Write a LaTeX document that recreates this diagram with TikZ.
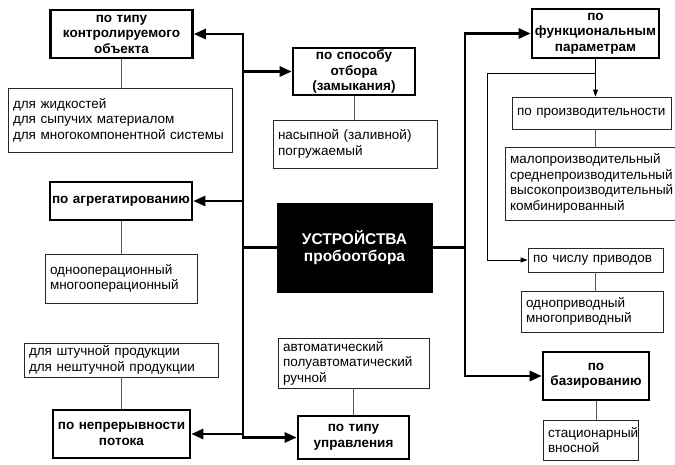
\documentclass[tikz,border=0pt]{standalone}
\usepackage{fontspec}
\setmainfont{Liberation Sans}
\usetikzlibrary{arrows.meta}
\tikzset{
  grp/.style={draw=black,line width=2.6pt,fill=white,align=center,inner xsep=2pt,inner ysep=1pt,
    font=\fontsize{13.5}{15.5}\selectfont\bfseries},
  det/.style={draw=black!85,line width=0.8pt,fill=white,align=left,inner xsep=5pt,inner ysep=1pt,
    font=\fontsize{13.5}{15.5}\selectfont},
  trunk/.style={line width=2.6pt,line cap=rect},
  bigtip/.tip={Triangle[length=12pt,width=10pt]},
  thinline/.style={draw=black!65,line width=0.9pt},
  smalltip/.tip={Triangle[length=7pt,width=5pt]}
}
\begin{document}
\begin{tikzpicture}[x=1pt,y=-1pt]
\useasboundingbox (0,0) rectangle (675,464);
\clip (0,0) rectangle (675,464);
% left side
\node[grp,text width=138pt,minimum height=48pt] (tipobj) at (121.5,34) {по типу\\контролируемого\\объекта};
\node[det,text width=214pt,minimum height=64pt] (zhidk) at (120,120) {для жидкостей\\для сыпучих материалом\\для многокомпонентной системы};
\node[grp,text width=138pt,minimum height=38pt] (agreg) at (121,201) {по агрегатированию};
\node[det,text width=142pt,minimum height=49pt] (operac) at (121,278.5) {однооперационный\\многооперационный};
\node[det,text width=184pt,minimum height=34pt] (shtuch) at (121,360) {для штучной продукции\\для нештучной продукции};
\node[grp,text width=133pt,minimum height=48pt] (nepr) at (121.5,434) {по непрерывности\\потока};
% middle
\node[grp,text width=118pt,minimum height=47pt] (sposob) at (354,71.5) {по способу\\отбора\\(замыкания)};
\node[det,text width=154pt,minimum height=48pt] (nasyp) at (355,144) {насыпной (заливной)\\погружаемый};
\node[draw=black,fill=black,text=white,align=center,minimum width=155pt,minimum height=89pt,
  font=\fontsize{15.5}{17.5}\selectfont\bfseries] (ustr) at (354.5,247.5) {УСТРОЙСТВА\\пробоотбора};
\node[det,text width=141pt,minimum height=50pt,inner ysep=0pt] (avto) at (353.5,363) {автоматический\\полуавтоматический\\ручной};
\node[grp,text width=107pt,minimum height=43pt] (uprav) at (353.5,437.5) {по типу\\управления};
% right side
\node[grp,text width=123pt,minimum height=49pt] (funk) at (595.5,33.5) {по\\функциональным\\параметрам};
\node[det,text width=149pt,minimum height=32pt] (proizv) at (591.5,113) {по производительности};
\node[det,text width=175pt,minimum height=73pt] (malo) at (597.5,183.5) {малопроизводительный\\среднепроизводительный\\высокопроизводительный\\комбинированный};
\node[det,text width=125pt,minimum height=24pt] (chislo) at (595.5,260) {по числу приводов};
\node[det,text width=132pt,minimum height=41pt] (privod) at (592,311.5) {одноприводный\\многоприводный};
\node[grp,text width=102pt,minimum height=48pt] (baz) at (596,376) {по\\базированию};
\node[det,text width=85pt,minimum height=40pt] (stac) at (590.5,440) {стационарный\\вносной};
\coordinate (lt) at (243,0);
\coordinate (rt) at (465,0);
\coordinate (fk) at (595.5,73);
\coordinate (lp) at (487,73);
% trunks
\draw[trunk,{bigtip}-{bigtip}] (tipobj.east) -| (lt |- uprav.west) -- (uprav.west);
\draw[trunk,-{bigtip}] (lt |- sposob.west) -- (sposob.west);
\draw[trunk,-{bigtip}] (lt |- agreg.east) -- (agreg.east);
\draw[trunk,-{bigtip}] (lt |- nepr.east) -- (nepr.east);
\draw[trunk] (ustr.west) -- (lt |- ustr.west);
\draw[trunk,{bigtip}-{bigtip}] (funk.west) -| (rt |- baz.west) -- (baz.west);
\draw[trunk] (ustr.east) -- (rt |- ustr.east);
% thin links
\draw[thinline] (tipobj.south) -- (tipobj.south |- zhidk.north);
\draw[thinline] (agreg.south) -- (agreg.south |- operac.north);
\draw[thinline] (shtuch.south) -- (shtuch.south |- nepr.north);
\draw[thinline] (sposob.south) -- (sposob.south |- nasyp.north);
\draw[thinline] (avto.south) -- (avto.south |- uprav.north);
\draw[thinline,draw=black,-{smalltip}] (funk.south) -- (funk.south |- proizv.north);
\draw[thinline,draw=black,-{smalltip}] (fk) -- (lp) |- (chislo.west);
\draw[thinline] (fk |- proizv.south) -- (fk |- malo.north);
\draw[thinline] (fk |- chislo.south) -- (fk |- privod.north);
\draw[thinline] (baz.south) -- (baz.south |- stac.north);
\end{tikzpicture}
\end{document}
